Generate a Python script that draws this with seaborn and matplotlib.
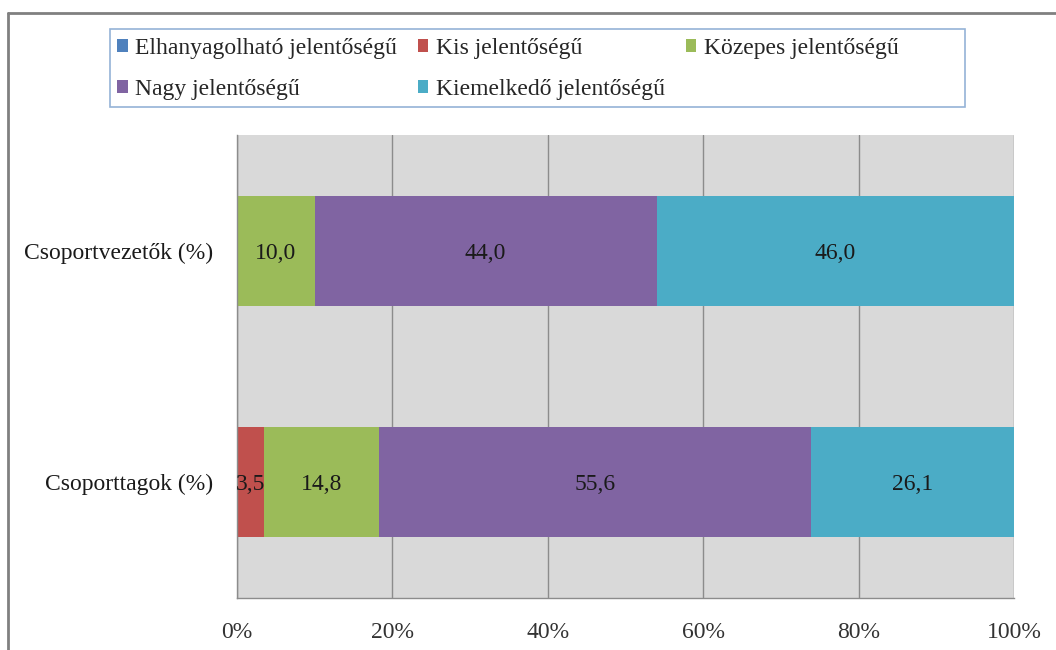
import numpy as np
import pandas as pd
import matplotlib
matplotlib.use("Agg")
import matplotlib.pyplot as plt
import seaborn as sns
from matplotlib.patches import Patch, Rectangle
from matplotlib.lines import Line2D

groups = ["Csoportvezetők (%)", "Csoporttagok (%)"]
levels = ["Elhanyagolható jelentőségű", "Kis jelentőségű", "Közepes jelentőségű",
          "Nagy jelentőségű", "Kiemelkedő jelentőségű"]
vezetok = [0.0, 0.0, 10.0, 44.0, 46.0]
tagok = [0.0, 3.5, 14.8, 55.6, 26.1]
colors = ["#4F81BD", "#C0504D", "#9BBB59", "#8064A2", "#4BACC6"]
xticks = [0, 20, 40, 60, 80, 100]
xticklabels = ["0%", "20%", "40%", "60%", "80%", "100%"]

sns.set_style("white")
plt.rcParams["font.family"] = ["Liberation Serif", "DejaVu Serif"]
FS = 17

df = pd.DataFrame({
    "group": np.repeat(groups, len(levels)),
    "level": levels * len(groups),
    "value": vezetok + tagok,
})
df["cum"] = df.groupby("group", sort=False)["value"].cumsum()

fig = plt.figure(figsize=(10.56, 6.5), dpi=100)
ax = fig.add_axes([237 / 1056, 52 / 650, 777 / 1056, 463 / 650])
ax.set_facecolor("#D9D9D9")
ax.set_axisbelow(True)

for i in reversed(range(len(levels))):
    sub = df[df["level"] == levels[i]]
    sns.barplot(data=sub, x="cum", y="group", order=groups, orient="h",
                color=colors[i], width=0.475, linewidth=0, saturation=1,
                errorbar=None, ax=ax)

for _, r in df.iterrows():
    if r["value"] > 0:
        ax.text(r["cum"] - r["value"] / 2, groups.index(r["group"]),
                f"{r['value']:.1f}".replace(".", ","), ha="center",
                va="center_baseline", fontsize=FS, color="#1a1a1a")

ax.set_xlim(0, 100)
ax.set_ylim(1.5, -0.5)
ax.set_xticks(xticks)
ax.set_xticklabels(xticklabels, fontsize=FS, color="#333333")
ax.grid(axis="x", color="#8C8C8C", lw=1)
ax.grid(axis="y", visible=False)
ax.set_yticks([0, 1])
ax.set_yticklabels(groups, fontsize=FS, color="#1a1a1a")
ax.set_yticks([-0.5, 0.5, 1.5], minor=True)
ax.tick_params(axis="y", which="major", length=0, pad=17)
ax.tick_params(axis="y", which="minor", length=5, color="#8C8C8C", direction="out")
ax.tick_params(axis="x", length=5, color="#8C8C8C", direction="out", pad=12)
ax.set_xlabel("")
ax.set_ylabel("")
for s in ["top", "right"]:
    ax.spines[s].set_visible(False)
for s in ["left", "bottom"]:
    ax.spines[s].set_color("#8C8C8C")
    ax.spines[s].set_linewidth(1)

# legend frame
fig.add_artist(Rectangle((110 / 1056, 1 - 107 / 650), 855 / 1056, 78 / 650,
                         transform=fig.transFigure, facecolor="white",
                         edgecolor="#95B3D7", lw=1.2))
handles = [Patch(facecolor=c, edgecolor="none", label=l) for c, l in zip(colors, levels)]
order = [0, 3, 1, 4, 2]
leg = fig.legend([handles[k] for k in order], [levels[k] for k in order],
                 ncol=3, loc="upper left",
                 bbox_to_anchor=(117 / 1056, 1 - 38 / 650),
                 frameon=False, fontsize=FS, handlelength=0.45, handleheight=0.45,
                 handletextpad=0.3, labelspacing=0.85, borderpad=0.0,
                 columnspacing=0.9, borderaxespad=0)

fig.add_artist(Line2D([8 / 1056, 1], [1 - 13 / 650] * 2, transform=fig.transFigure,
                      color="#808080", lw=2))
fig.add_artist(Line2D([8 / 1056, 8 / 1056], [0, 1 - 13 / 650], transform=fig.transFigure,
                      color="#808080", lw=2))

fig.savefig("out.png", dpi=100)
